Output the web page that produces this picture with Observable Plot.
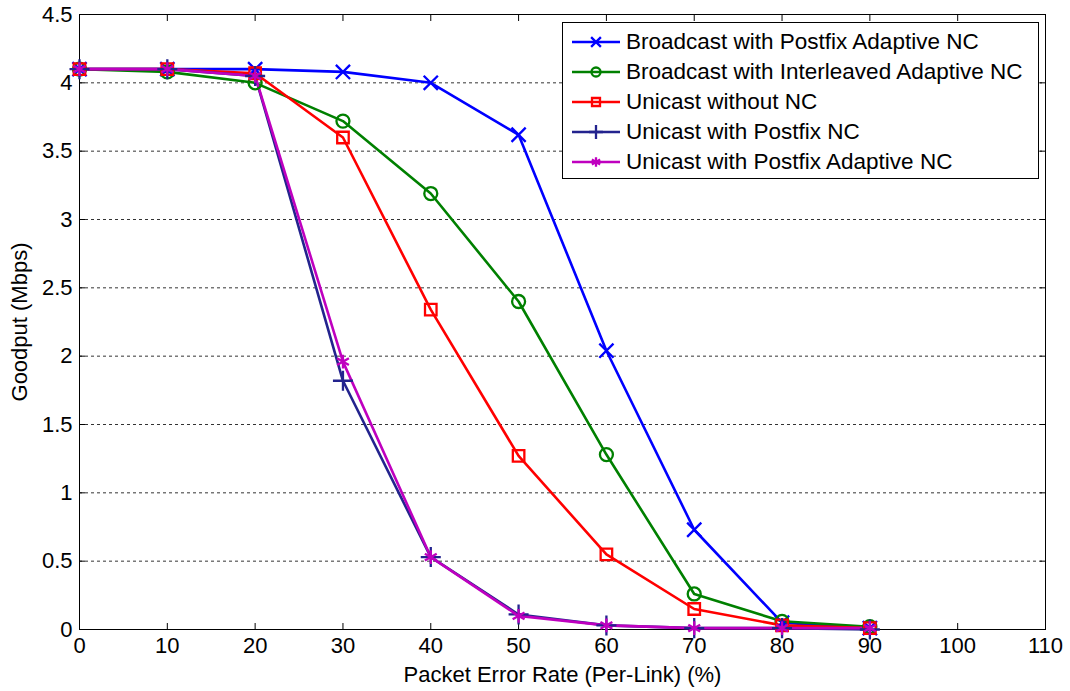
<!DOCTYPE html>
<html>
<head>
<meta charset="utf-8">
<script src="https://cdn.jsdelivr.net/npm/d3@7"></script>
<script src="https://cdn.jsdelivr.net/npm/@observablehq/plot@0.6"></script>
<style>
  html, body { margin: 0; padding: 0; background: #fff; }
  #wrap { position: relative; width: 1070px; height: 691px; font-family: "Liberation Sans", Arial, sans-serif; }
  #legend { position: absolute; left: 562px; top: 22px; width: 475px; height: 155px; border: 1px solid #000; background: #fff; box-sizing: content-box; }
  .row { position: absolute; left: 0; height: 30px; display: flex; align-items: center; }
  .row span { font-size: 22.5px; color: #000; margin-left: 5px; white-space: nowrap; }
</style>
</head>
<body>
<div id="wrap"><div id="legend"></div></div>
<script>
const xValues = [0, 10, 20, 30, 40, 50, 60, 70, 80, 90];
const seriesNames = [
  "Broadcast with Postfix Adaptive NC",
  "Broadcast with Interleaved Adaptive NC",
  "Unicast without NC",
  "Unicast with Postfix NC",
  "Unicast with Postfix Adaptive NC"
];
const seriesColors = ["#0000ff", "#008000", "#ff0000", "#23238e", "#bf00bf"];
const seriesSymbols = ["times", "circle", "square", "plus", "asterisk"];
const bcastPostfixAdaptive = [4.10, 4.10, 4.10, 4.08, 4.00, 3.62, 2.04, 0.73, 0.05, 0.01];
const bcastInterleavedAdaptive = [4.10, 4.08, 4.00, 3.72, 3.19, 2.40, 1.28, 0.26, 0.06, 0.02];
const unicastNoNC = [4.10, 4.10, 4.07, 3.60, 2.34, 1.27, 0.55, 0.15, 0.03, 0.01];
const unicastPostfixNC = [4.10, 4.10, 4.05, 1.82, 0.53, 0.11, 0.03, 0.01, 0.01, 0.00];
const unicastPostfixAdaptive = [4.10, 4.10, 4.05, 1.96, 0.53, 0.10, 0.03, 0.01, 0.01, 0.01];
const xTicks = [0, 10, 20, 30, 40, 50, 60, 70, 80, 90, 100, 110];
const yTicks = [0, 0.5, 1, 1.5, 2, 2.5, 3, 3.5, 4, 4.5];

const allSeries = [bcastPostfixAdaptive, bcastInterleavedAdaptive, unicastNoNC, unicastPostfixNC, unicastPostfixAdaptive];
const data = [];
allSeries.forEach((vals, si) => vals.forEach((v, i) => data.push({series: seriesNames[si], x: xValues[i], y: v})));

const fmt = d => String(d);
const chart = Plot.plot({
  width: 1070, height: 691,
  marginLeft: 79, marginRight: 25, marginTop: 14, marginBottom: 62,
  style: {fontFamily: "Liberation Sans, Arial, sans-serif", fontSize: "22px", background: "#fff", color: "#000"},
  x: {domain: [0, 110]},
  y: {domain: [0, 4.5]},
  color: {domain: seriesNames, range: seriesColors},
  symbol: {domain: seriesNames, range: seriesSymbols},
  marks: [
    Plot.gridY(yTicks.slice(1, -1), {stroke: "#000", strokeOpacity: 0.8, strokeDasharray: "3,3"}),
    Plot.axisX(xTicks, {anchor: "bottom", tickSize: -6, tickPadding: 14, tickFormat: fmt, label: "Packet Error Rate (Per-Link) (%)", labelAnchor: "center", labelOffset: 52, labelArrow: "none", fontSize: 22}),
    Plot.axisX(xTicks, {anchor: "top", tickSize: -6, tickFormat: () => "", label: null}),
    Plot.axisY(yTicks, {anchor: "left", tickSize: -6, tickPadding: 13, tickFormat: fmt, label: "Goodput (Mbps)", labelAnchor: "center", labelOffset: 68, labelArrow: "none", fontSize: 22}),
    Plot.axisY(yTicks, {anchor: "right", tickSize: -6, tickFormat: () => "", label: null}),
    Plot.frame({stroke: "#000"}),
    Plot.line(data, {x: "x", y: "y", z: "series", stroke: "series", strokeWidth: 2.6}),
    Plot.dot(data, {x: "x", y: "y", symbol: "series", stroke: "series", fill: "none", r: 6.5, strokeWidth: 2.3})
  ]
});
document.getElementById("wrap").prepend(chart);

const legend = document.getElementById("legend");
const symMap = {times: d3.symbolTimes, circle: d3.symbolCircle, square: d3.symbolSquare, plus: d3.symbolPlus, asterisk: d3.symbolAsterisk};
seriesNames.forEach((name, i) => {
  const row = document.createElement("div");
  row.className = "row";
  row.style.top = (4 + i * 30) + "px";
  const svg = d3.create("svg").attr("width", 58).attr("height", 30);
  svg.append("line").attr("x1", 9).attr("x2", 57).attr("y1", 15).attr("y2", 15)
    .attr("stroke", seriesColors[i]).attr("stroke-width", 2.6);
  svg.append("path").attr("d", d3.symbol(symMap[seriesSymbols[i]], 64)())
    .attr("transform", "translate(33,15)").attr("fill", "none")
    .attr("stroke", seriesColors[i]).attr("stroke-width", 2.3);
  row.appendChild(svg.node());
  const sp = document.createElement("span");
  sp.textContent = name;
  row.appendChild(sp);
  legend.appendChild(row);
});
</script>
</body>
</html>
